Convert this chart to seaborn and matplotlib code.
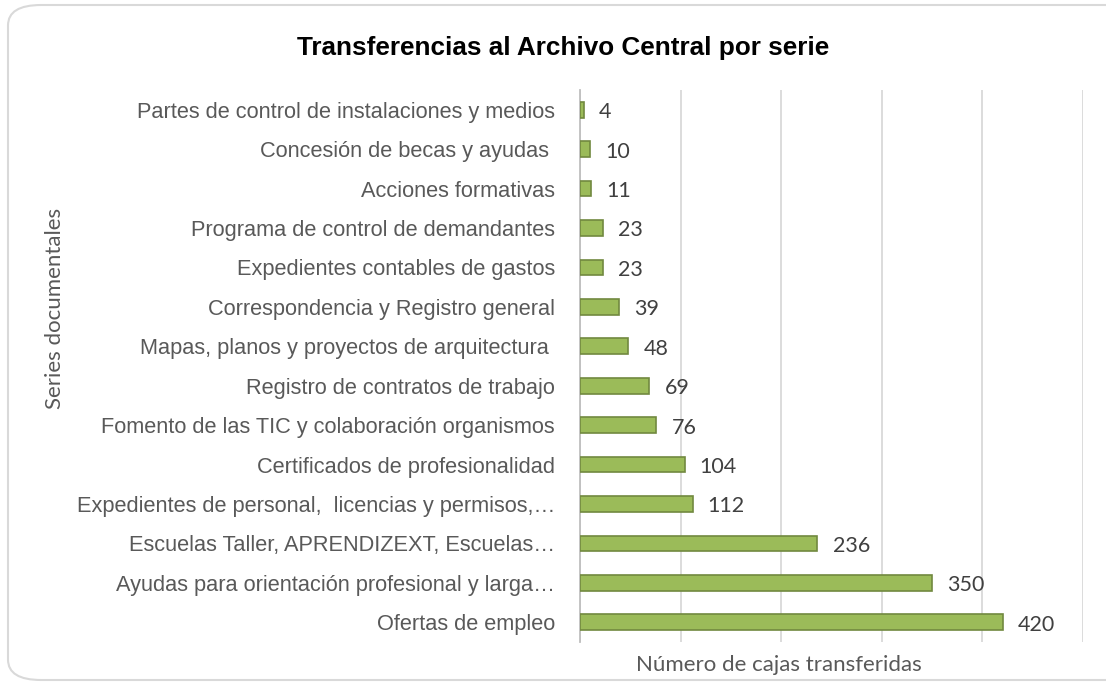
import matplotlib
matplotlib.use("Agg")
import matplotlib.pyplot as plt
from matplotlib.patches import FancyBboxPatch
import seaborn as sns
import pandas as pd

# datos del gráfico
series = [
    "Partes de control de instalaciones y medios",
    "Concesión de becas y ayudas ",
    "Acciones formativas",
    "Programa de control de demandantes",
    "Expedientes contables de gastos",
    "Correspondencia y Registro general",
    "Mapas, planos y proyectos de arquitectura ",
    "Registro de contratos de trabajo",
    "Fomento de las TIC y colaboración organismos",
    "Certificados de profesionalidad",
    "Expedientes de personal,  licencias y permisos,…",
    "Escuelas Taller, APRENDIZEXT, Escuelas…",
    "Ayudas para orientación profesional y larga…",
    "Ofertas de empleo",
]
cajas = [4, 10, 11, 23, 23, 39, 48, 69, 76, 104, 112, 236, 350, 420]

df = pd.DataFrame({"serie": series, "cajas": cajas})

sns.set_theme(style="white")
plt.rcParams["font.family"] = ["Liberation Sans", "DejaVu Sans"]

W, H = 1106, 682
fig = plt.figure(figsize=(W / 100, H / 100), dpi=100)

# marco redondeado del gráfico
marco = FancyBboxPatch((8 / W, 1 - 680 / H), 1200 / W, 675 / H,
                       boxstyle="round,pad=0,rounding_size=0.03",
                       transform=fig.transFigure, facecolor="white",
                       edgecolor="#d9d9d9", linewidth=1.5, zorder=-5)
fig.patches.append(marco)

ax = fig.add_axes([580 / W, 1 - 642 / H, (1083 - 580) / W, (642 - 90) / H])
ax.set_zorder(2)
ax.patch.set_alpha(0)

sns.barplot(data=df, y="serie", x="cajas", orient="h", ax=ax,
            color="#9bbb59", edgecolor="#71893f", linewidth=1.2,
            width=0.4, saturation=1, zorder=3)

ax.set_xlim(0, 500)
ax.set_ylim(len(series) - 0.5, -0.5)
ax.set_xticks([0, 100, 200, 300, 400, 500])
ax.set_xticklabels([])
ax.set_axisbelow(True)
ax.grid(axis="x", color="#d9d9d9", linewidth=1.3)
ax.grid(axis="y", visible=False)
ax.tick_params(axis="x", length=0)

# marcas del eje y entre categorías
ax.set_yticks([i - 0.5 for i in range(len(series) + 1)], minor=True)
ax.tick_params(axis="y", which="minor", length=6, width=1.2, color="#bfbfbf", direction="out")
ax.tick_params(axis="y", which="major", length=0, pad=18,
               labelsize=15.7, labelcolor="#595959")

for s in ["top", "right", "bottom"]:
    ax.spines[s].set_visible(False)
ax.spines["left"].set_color("#bfbfbf")
ax.spines["left"].set_linewidth(1.3)

ax.set_xlabel("")
ax.set_ylabel("")

# etiquetas de datos
for i, v in enumerate(cajas):
    ax.text(v + 15, i + 0.06, str(v), va="center", ha="left", fontsize=15.5,
            color="#404040", family=["Lato", "DejaVu Sans"])

fig.text(563 / W, 1 - 48 / H, "Transferencias al Archivo Central por serie",
         ha="center", va="center", fontsize=18.8, fontweight="bold", color="black")
fig.text(55 / W, 1 - 308 / H, "Series documentales", rotation=90,
         ha="center", va="center", fontsize=16, color="#595959",
         family=["Lato", "DejaVu Sans"])
fig.text(779 / W, 1 - 665 / H, "Número de cajas transferidas",
         ha="center", va="center", fontsize=16, color="#595959",
         family=["Lato", "DejaVu Sans"])

fig.savefig("out.png", dpi=100)
